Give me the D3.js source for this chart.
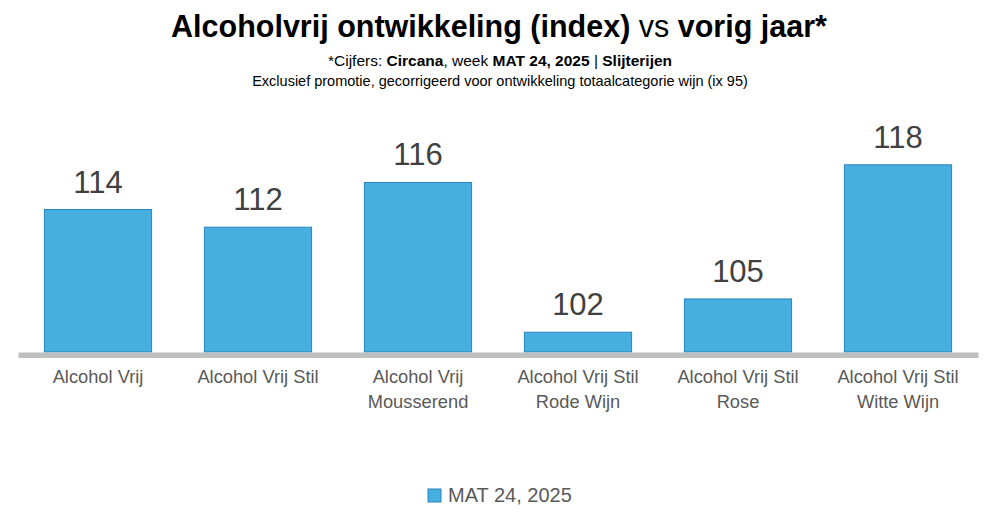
<!DOCTYPE html>
<html>
<head>
<meta charset="utf-8">
<script src="https://cdn.jsdelivr.net/npm/d3@7"></script>
<style>
  body { margin: 0; background: #fff; }
  svg { display: block; font-family: "Liberation Sans", Arial, sans-serif; }
</style>
</head>
<body>
<div id="chart"></div>
<script>
// data (index vs previous year)
var categories = ["Alcohol Vrij", "Alcohol Vrij Stil", "Alcohol Vrij Mousserend",
                  "Alcohol Vrij Stil Rode Wijn", "Alcohol Vrij Stil Rose", "Alcohol Vrij Stil Witte Wijn"];
var values = [113.7, 112.0, 116.3, 101.9, 105.1, 118.0];
var seriesName = "MAT 24, 2025";

var width = 1000, height = 521;
var barColor = "#47AEE0", barStroke = "#2A84BE";

var svg = d3.select("#chart")
  .append("svg")
    .attr("width", width)
    .attr("height", height);

var data = categories.map(function(c, i) { return {cat: c, value: values[i]}; });

// scales
var x = d3.scaleBand()
  .domain(categories)
  .range([18, 978])
  .paddingInner(0.33)
  .paddingOuter(0.165);

var y = d3.scaleLinear()
  .domain([100, 120])
  .range([352, 144]);

// titles
var title = svg.append("text")
  .attr("x", 499)
  .attr("y", 37)
  .attr("text-anchor", "middle")
  .style("font-size", "30.5px")
  .style("fill", "#000");
title.append("tspan").style("font-weight", "bold").text("Alcoholvrij ontwikkeling (index) ");
title.append("tspan").text("vs ");
title.append("tspan").style("font-weight", "bold").text("vorig jaar*");

var sub = svg.append("text")
  .attr("x", 500)
  .attr("y", 66)
  .attr("text-anchor", "middle")
  .style("font-size", "15.5px")
  .style("fill", "#000");
sub.append("tspan").text("*Cijfers: ");
sub.append("tspan").style("font-weight", "bold").text("Circana");
sub.append("tspan").text(", week ");
sub.append("tspan").style("font-weight", "bold").text("MAT 24, 2025");
sub.append("tspan").text(" | ");
sub.append("tspan").style("font-weight", "bold").text("Slijterijen");

svg.append("text")
  .attr("x", 500)
  .attr("y", 86)
  .attr("text-anchor", "middle")
  .style("font-size", "14.5px")
  .style("fill", "#000")
  .text("Exclusief promotie, gecorrigeerd voor ontwikkeling totaalcategorie wijn (ix 95)");

// bars
svg.selectAll("rect.bar")
  .data(data)
  .enter()
  .append("rect")
    .attr("class", "bar")
    .attr("x", function(d) { return x(d.cat); })
    .attr("y", function(d) { return y(d.value); })
    .attr("width", x.bandwidth())
    .attr("height", function(d) { return y(100) - y(d.value); })
    .style("fill", barColor)
    .style("stroke", barStroke)
    .style("stroke-width", 1);

// value labels
svg.selectAll("text.val")
  .data(data)
  .enter()
  .append("text")
    .attr("class", "val")
    .attr("x", function(d) { return x(d.cat) + x.bandwidth() / 2; })
    .attr("y", function(d) { return y(d.value) - 17; })
    .attr("text-anchor", "middle")
    .style("font-size", "31px")
    .style("fill", "#404040")
    .text(function(d) { return d3.format(".0f")(d.value); });

// x axis
var xAxis = svg.append("g")
  .attr("transform", "translate(0," + (y(100) + 2.8) + ")")
  .call(d3.axisBottom(x).tickSize(0).tickSizeOuter(0));

xAxis.select(".domain")
  .style("stroke", "#BFBFBF")
  .style("stroke-width", 5.5);

xAxis.selectAll(".tick text")
  .attr("y", 28.5)
  .attr("dy", 0)
  .style("font-family", "'Liberation Sans', Arial, sans-serif")
  .style("font-size", "18.3px")
  .style("fill", "#595959")
  .call(wrap, 135);

function wrap(text, w) {
  text.each(function() {
    var t = d3.select(this),
        words = t.text().split(" "),
        lines = [], line = [];
    t.text(null);
    var probe = t.append("tspan");
    words.forEach(function(word) {
      line.push(word);
      probe.text(line.join(" "));
      if (probe.node().getComputedTextLength() > w && line.length > 1) {
        line.pop();
        lines.push(line.join(" "));
        line = [word];
      }
    });
    lines.push(line.join(" "));
    probe.remove();
    lines.forEach(function(l, i) {
      t.append("tspan")
        .attr("x", 0)
        .attr("dy", i === 0 ? 0 : 24.4)
        .text(l);
    });
  });
}

// legend
var legend = svg.append("g").attr("transform", "translate(428,489)");
legend.append("rect")
  .attr("width", 13)
  .attr("height", 13)
  .style("fill", barColor)
  .style("stroke", barStroke);
legend.append("text")
  .attr("x", 20)
  .attr("y", 13)
  .style("font-size", "20px")
  .style("fill", "#595959")
  .text(seriesName);
</script>
</body>
</html>
